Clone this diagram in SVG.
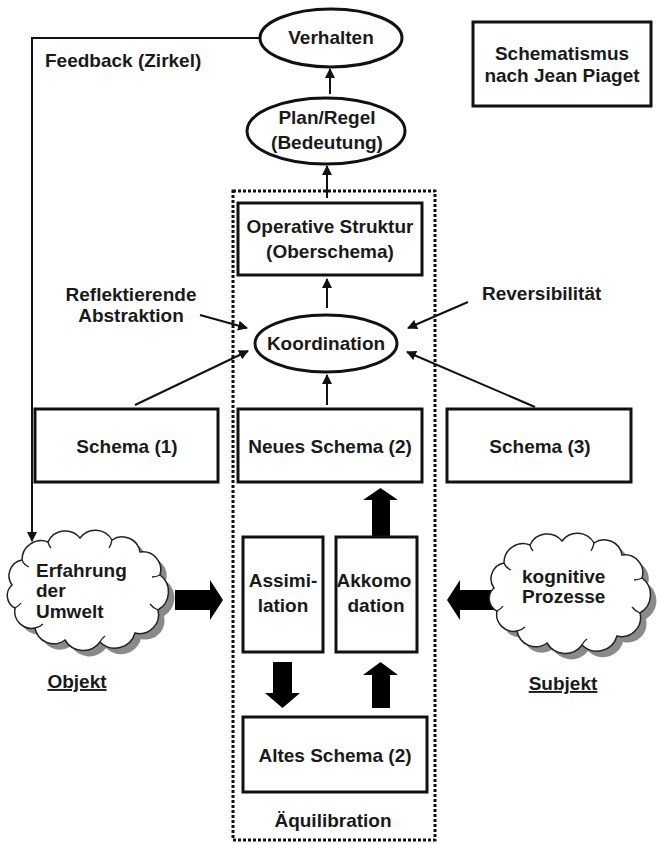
<svg xmlns="http://www.w3.org/2000/svg" width="661" height="844" viewBox="0 0 661 844">
<style>
text{font-family:"Liberation Sans",Arial,sans-serif;font-weight:bold;font-size:19px;fill:#1a1a1a}
.c{text-anchor:middle}
.box{fill:#fff;stroke:#111;stroke-width:3}
.ell{fill:#fff;stroke:#111;stroke-width:3}
.thin{fill:none;stroke:#111;stroke-width:2}
.thick{fill:#000;stroke:none}
.u{text-decoration:underline}
.curl{fill:none;stroke:#222;stroke-width:1.3}
</style>
<defs>
<marker id="ah" viewBox="0 0 10 10" refX="9" refY="5" markerWidth="5" markerHeight="5" orient="auto" markerUnits="strokeWidth">
<path d="M0,0 L10,5 L0,10 z" fill="#111"/>
</marker>
<path id="cloud" d="M12,585 A16,16 0 0 1 22,560 A19,19 0 0 1 48,542 A19,19 0 0 1 80,538 A19,19 0 0 1 112,540 A18,18 0 0 1 140,552 A18,18 0 0 1 160,575 A21,21 0 0 1 158,610 A19,19 0 0 1 135,633 A21,21 0 0 1 100,642 A21,21 0 0 1 65,640 A19,19 0 0 1 35,628 A17,17 0 0 1 15,608 A14,14 0 0 1 12,585 Z"/>
<path id="curls" d="M22,560 q2,5 7,7 M48,542 q1,4 3,6 M112,540 q-1,5 -3,8 M160,575 q-4,2 -8,2 M158,610 q-5,-2 -8,-6 M100,642 q2,-4 5,-6 M35,628 q5,-1 8,-4 M15,608 q4,-2 6,-5"/>
</defs>
<rect width="661" height="844" fill="#fff"/>

<g id="equilibration-frame">
<rect x="233" y="191" width="202" height="649" fill="none" stroke="#111" stroke-width="3" stroke-dasharray="3 2"/>
</g>

<g id="connectors">
<polyline class="thin" points="260,38 32,38 32,541" marker-end="url(#ah)"/>
<line class="thin" x1="330" y1="94" x2="330" y2="69" marker-end="url(#ah)"/>
<line class="thin" x1="327" y1="198" x2="327" y2="166" marker-end="url(#ah)"/>
<line class="thin" x1="327" y1="308" x2="327" y2="279" marker-end="url(#ah)"/>
<line class="thin" x1="327" y1="405" x2="327" y2="375" marker-end="url(#ah)"/>
<line class="thin" x1="200" y1="315" x2="247" y2="328" marker-end="url(#ah)"/>
<line class="thin" x1="135" y1="405" x2="248" y2="351" marker-end="url(#ah)"/>
<line class="thin" x1="468" y1="302" x2="408" y2="328" marker-end="url(#ah)"/>
<line class="thin" x1="535" y1="407" x2="407" y2="352" marker-end="url(#ah)"/>
<path class="thick" d="M175,590 H210 V580 L223,600 L210,620 V610 H175 Z"/>
<path class="thick" d="M495,590 H460 V580 L447,600 L460,620 V610 H495 Z"/>
<path class="thick" d="M372,537 V500 H363 L380.5,488 L398,500 H390 V537 Z"/>
<path class="thick" d="M372,708 V675 H363 L380.5,662 L398,675 H390 V708 Z"/>
<path class="thick" d="M273,662 V693 H265 L282.5,708 L300,693 H292 V662 Z"/>
</g>

<g id="verhalten">
<ellipse class="ell" cx="331" cy="38" rx="71" ry="29"/>
<text class="c" x="331" y="44">Verhalten</text>
</g>

<g id="plan-regel">
<ellipse class="ell" cx="326" cy="131" rx="79" ry="33"/>
<text class="c" x="327" y="124">Plan/Regel</text>
<text class="c" x="327" y="149">(Bedeutung)</text>
</g>

<g id="title">
<rect class="box" x="473" y="22" width="178" height="84"/>
<text class="c" x="562" y="60">Schematismus</text>
<text class="c" x="562" y="82">nach Jean Piaget</text>
</g>

<g id="feedback-label">
<text x="45" y="67">Feedback (Zirkel)</text>
</g>

<g id="operative-struktur">
<rect class="box" x="238" y="203" width="184" height="72"/>
<text class="c" x="330" y="233">Operative Struktur</text>
<text class="c" x="330" y="258">(Oberschema)</text>
</g>

<g id="reflektierende-abstraktion">
<text class="c" x="131" y="301">Reflektierende</text>
<text class="c" x="131" y="322">Abstraktion</text>
</g>

<g id="reversibilitaet">
<text x="482" y="300">Reversibilität</text>
</g>

<g id="koordination">
<ellipse class="ell" cx="326" cy="343.5" rx="71" ry="28.5"/>
<text class="c" x="326" y="350">Koordination</text>
</g>

<g id="schema1">
<rect class="box" x="35" y="409" width="183" height="73"/>
<text class="c" x="127" y="453">Schema (1)</text>
</g>

<g id="neues-schema">
<rect class="box" x="238" y="409" width="184" height="73"/>
<text class="c" x="330" y="453">Neues Schema (2)</text>
</g>

<g id="schema3">
<rect class="box" x="447" y="409" width="184" height="73"/>
<text class="c" x="540" y="453">Schema (3)</text>
</g>

<g id="erfahrung">
<use href="#cloud" transform="translate(6,6)" fill="#8a8a8a"/>
<use href="#cloud" fill="#fff" stroke="#222" stroke-width="1.5"/>
<use href="#curls" class="curl"/>
<text x="36" y="577">Erfahrung</text>
<text x="36" y="597">der</text>
<text x="36" y="618">Umwelt</text>
</g>

<g id="kognitive-prozesse">
<use href="#cloud" transform="translate(488,9)" fill="#8a8a8a"/>
<use href="#cloud" transform="translate(482,3)" fill="#fff" stroke="#222" stroke-width="1.5"/>
<use href="#curls" class="curl" transform="translate(482,3)"/>
<text x="522" y="583">kognitive</text>
<text x="522" y="603">Prozesse</text>
</g>

<g id="assimilation">
<rect class="box" x="243" y="537" width="80" height="115"/>
<text class="c" x="283" y="587">Assimi-</text>
<text class="c" x="283" y="612">lation</text>
</g>

<g id="akkomodation">
<rect class="box" x="336" y="537" width="81" height="115"/>
<text class="c" x="374" y="587">Akkomo</text>
<text class="c" x="376" y="612">dation</text>
</g>

<g id="objekt">
<text class="c u" x="77" y="688">Objekt</text>
</g>

<g id="subjekt">
<text class="c u" x="563" y="690">Subjekt</text>
</g>

<g id="altes-schema">
<rect class="box" x="243" y="717" width="184" height="75"/>
<text class="c" x="335" y="762">Altes Schema (2)</text>
</g>

<g id="aequilibration">
<text class="c" x="333" y="827">Äquilibration</text>
</g>
</svg>
